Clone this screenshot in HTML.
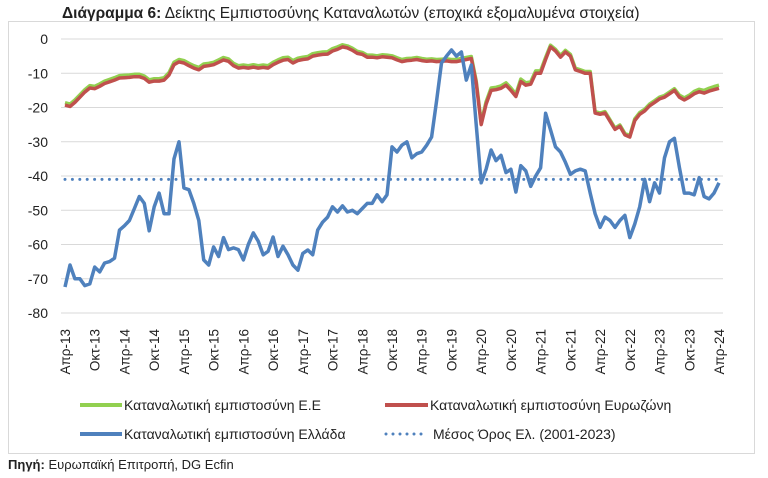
<!DOCTYPE html>
<html><head><meta charset="utf-8">
<style>
body{margin:0;background:#fff;width:768px;height:478px;overflow:hidden;font-family:"Liberation Sans","DejaVu Sans",sans-serif;}
svg{position:absolute;left:0;top:0}
</style></head>
<body>
<svg width="768" height="478" xmlns="http://www.w3.org/2000/svg">
<text x="62" y="18" font-size="15.5" fill="#222"><tspan font-weight="bold">Διάγραμμα 6:</tspan> Δείκτης Εμπιστοσύνης Καταναλωτών (εποχικά εξομαλυμένα στοιχεία)</text>
<rect x="8.5" y="21.5" width="746" height="432" fill="none" stroke="#d9d9d9"/>
<g id="grid"></g><g id="yt"></g><g id="xt"></g><g id="series"></g>
<g font-family="'Liberation Sans Narrow','Liberation Sans',sans-serif" font-size="14" fill="#222">
<g><line x1="80" y1="405" x2="122" y2="405" stroke="#92d050" stroke-width="4"/><text x="124" y="410">Καταναλωτική εμπιστοσύνη Ε.Ε</text></g>
<g><line x1="385" y1="405" x2="428" y2="405" stroke="#c0504d" stroke-width="4"/><text x="430" y="410">Καταναλωτική εμπιστοσύνη Ευρωζώνη</text></g>
<g><line x1="80" y1="434" x2="122" y2="434" stroke="#4f81bd" stroke-width="4"/><text x="124" y="439">Καταναλωτική εμπιστοσύνη Ελλάδα</text></g>
<g><line x1="386" y1="434" x2="422" y2="434" stroke="#4f81bd" stroke-width="3" stroke-dasharray="0 7" stroke-linecap="round"/><text x="433" y="439">Μέσος Όρος Ελ. (2001-2023)</text></g>
</g>
<text x="8" y="469" font-size="13" fill="#222"><tspan font-weight="bold">Πηγή:</tspan> Ευρωπαϊκή Επιτροπή, DG Ecfin</text>
</svg>
<script>
const yTicks=[0,-10,-20,-30,-40,-50,-60,-70,-80];
const xTickLabels=["Απρ-13","Οκτ-13","Απρ-14","Οκτ-14","Απρ-15","Οκτ-15","Απρ-16","Οκτ-16","Απρ-17","Οκτ-17","Απρ-18","Οκτ-18","Απρ-19","Οκτ-19","Απρ-20","Οκτ-20","Απρ-21","Οκτ-21","Απρ-22","Οκτ-22","Απρ-23","Οκτ-23","Απρ-24"];
const greece=[-72.4,-66,-70,-70,-72,-71.5,-66.6,-68,-65.4,-65,-64,-55.8,-54.5,-53,-49.5,-46,-48,-56,-49,-45,-51,-51,-35,-30,-43.5,-44,-48,-53,-64.5,-66,-60.7,-63.5,-58,-61.5,-61,-61.5,-64.5,-60,-56.6,-59,-63,-62,-57.8,-63.5,-60.5,-63,-66,-67.5,-62.6,-61.6,-63,-55.8,-53.5,-52,-49,-50.5,-48.7,-50.5,-50,-51,-49.5,-48,-48,-45.5,-47.5,-45.5,-31.5,-33,-31,-30,-34.7,-33.5,-33,-31,-28.6,-18,-7,-5,-3.2,-5,-3.8,-12,-7.6,-25,-42,-38,-32.4,-35.5,-34,-39,-38,-44.7,-37,-38.5,-43,-40,-37.6,-21.7,-26.5,-31.5,-33,-36,-39.5,-38.5,-38,-38.5,-45,-51,-55,-52,-53,-55,-53,-51.5,-58,-54,-49,-41,-47.5,-42,-45,-34.7,-30,-29,-37.5,-45,-45,-45.5,-40.5,-46,-46.7,-45,-42];
const eurozone=[-19.3,-19.7,-18.5,-17,-15.5,-14.3,-14.5,-13.8,-13,-12.5,-12,-11.4,-11.3,-11.2,-11,-11,-11.5,-12.6,-12.3,-12.3,-12,-10.5,-7.5,-6.7,-7,-7.8,-8.5,-9,-8,-7.8,-7.5,-6.8,-6.1,-6.5,-7.8,-8.5,-8.3,-8.5,-8.2,-8.5,-8.3,-8.5,-7.5,-6.8,-6.2,-6,-7,-6.3,-6,-5.8,-5,-4.7,-4.5,-4.4,-3.5,-3,-2.3,-2.6,-3.3,-4.2,-4.5,-5.3,-5.3,-5.5,-5.2,-5.3,-5.5,-6.1,-6.6,-6.3,-6.2,-6,-6.3,-6.5,-6.4,-6.6,-6.5,-6.4,-6.6,-6.6,-6.3,-6,-5.7,-12.8,-25,-19,-15,-14.8,-14.4,-13.5,-15,-16.8,-12.4,-13.5,-13.2,-10,-10,-6,-2.3,-3.5,-5.3,-3.8,-5,-9,-9.5,-10,-10,-21.6,-22,-21.6,-24,-26.4,-25.5,-28,-28.6,-23.8,-22,-21,-19.5,-18.5,-17.5,-17,-16,-15,-17,-17.8,-17,-16,-15.4,-15.8,-15.2,-14.8,-14.4];
const eu=[-18.6,-19,-17.8,-16.3,-14.8,-13.6,-13.8,-13.1,-12.3,-11.8,-11.3,-10.7,-10.6,-10.5,-10.3,-10.3,-10.8,-11.9,-11.6,-11.6,-11.3,-9.8,-6.8,-6,-6.3,-7.1,-7.8,-8.3,-7.3,-7.1,-6.8,-6.1,-5.4,-5.8,-7.1,-7.8,-7.6,-7.8,-7.5,-7.8,-7.6,-7.8,-6.8,-6.1,-5.5,-5.3,-6.3,-5.6,-5.3,-5.1,-4.3,-4,-3.8,-3.7,-2.8,-2.3,-1.7,-2,-2.7,-3.6,-3.9,-4.7,-4.7,-4.9,-4.6,-4.7,-4.9,-5.5,-6,-5.7,-5.6,-5.4,-5.7,-5.9,-5.8,-6,-5.9,-5.8,-6,-6,-5.7,-5.4,-5.1,-12.2,-24.4,-18.3,-14.3,-14.1,-13.7,-12.8,-14.3,-16.1,-11.7,-12.8,-12.5,-9.3,-9.3,-5.4,-1.8,-3,-4.8,-3.3,-4.5,-8.5,-9,-9.5,-9.5,-21.2,-21.6,-21.2,-23.6,-26,-25.1,-27.6,-28.2,-23.3,-21.5,-20.5,-19,-18,-17,-16.5,-15.5,-14.5,-16.4,-17.2,-16.4,-15.3,-14.7,-15,-14.4,-13.9,-13.5];
const avgGreece=-41;

const X0=65,X1=719,Y0=39,PX_PER_UNIT=3.425;
const NS="http://www.w3.org/2000/svg";
function xs(i){return X0+(X1-X0)*i/(greece.length-1);}
function ys(v){return Y0-v*PX_PER_UNIT;}
function mk(tag,attrs,parent){const e=document.createElementNS(NS,tag);for(const k in attrs)e.setAttribute(k,attrs[k]);parent.appendChild(e);return e;}
const grid=document.getElementById('grid'),yt=document.getElementById('yt'),xt=document.getElementById('xt'),ser=document.getElementById('series');
yTicks.forEach(v=>{
  const l=mk('line',{x1:X0-4,x2:X1+4,y1:ys(v),y2:ys(v),stroke:'#d9d9d9','stroke-width':1},grid);
  
  
  const t=mk('text',{x:48,y:ys(v)+5,'text-anchor':'end','font-size':14,fill:'#222'},yt);
  t.textContent=v;
  
  
});
xTickLabels.forEach((s,k)=>{
  const x=xs(k*6)+5,y=329;
  const t=mk('text',{x:x,y:y,transform:`rotate(-90 ${x} ${y})`,'text-anchor':'end','font-size':13.5,fill:'#222','font-family':"'Liberation Sans Narrow','Liberation Sans',sans-serif"},xt);
  t.textContent=s;
  
  
});
function path(arr){return arr.map((v,i)=>(i?'L':'M')+xs(i).toFixed(1)+' '+ys(v).toFixed(1)).join(' ');}
const avg=mk('line',{x1:X0,x2:X1,y1:ys(avgGreece),y2:ys(avgGreece),stroke:'#4f81bd','stroke-width':3,'stroke-dasharray':'0 7.4','stroke-linecap':'round'},ser);


const pe=mk('path',{d:path(eu),fill:'none',stroke:'#92d050','stroke-width':3.5,'stroke-linejoin':'round'},ser);


const pz=mk('path',{d:path(eurozone),fill:'none',stroke:'#c0504d','stroke-width':3.5,'stroke-linejoin':'round'},ser);


const pg=mk('path',{d:path(greece),fill:'none',stroke:'#4f81bd','stroke-width':3.5,'stroke-linejoin':'round'},ser);


</script>
</body></html>
